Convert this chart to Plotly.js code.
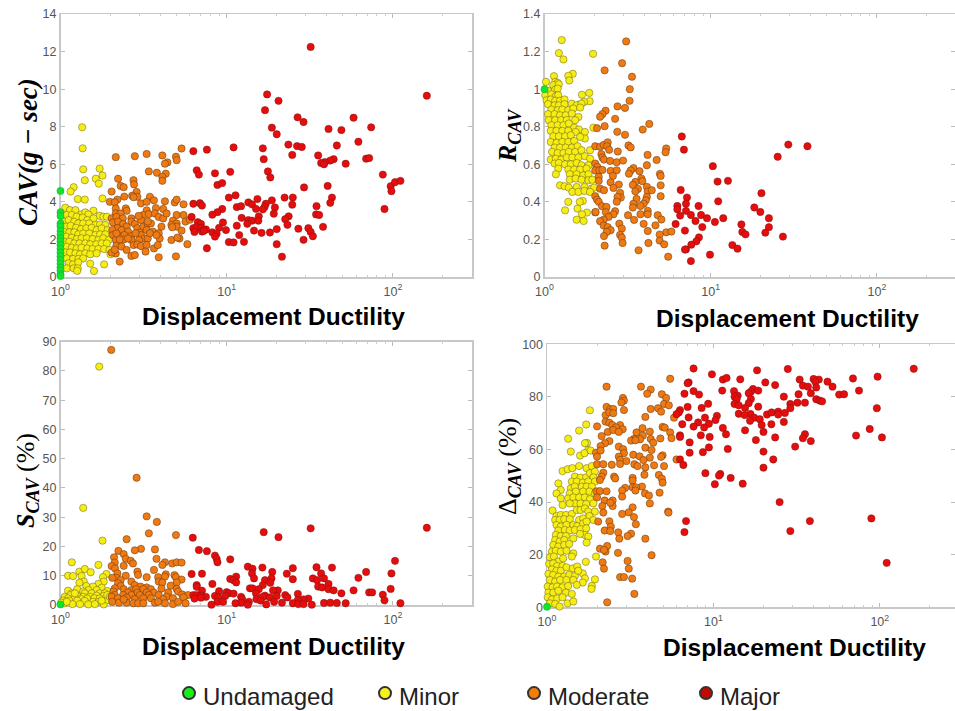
<!DOCTYPE html>
<html><head><meta charset="utf-8">
<script src="https://cdn.plot.ly/plotly-3.0.1.min.js"></script>
<style>html,body{margin:0;padding:0;background:#fff}#c{width:955px;height:711px}</style></head>
<body><div id="c"></div>
<script>
const classNames=["Undamaged","Minor","Moderate","Major"];
const xTickValues=[1,10,100];
const xTickLabels=["10<sup>0</sup>","10<sup>1</sup>","10<sup>2</sup>"];
const tickColor="#555";
// Panel 1: CAV (g-sec)
const cavUndamagedY=[4.58,3.45,3.25,2.85,2.7,2.45,2.25,2.05,1.9,1.7,1.5,1.3,1.1,.9,.7,.5,.35,.15,.05];
const cavMinor=[[1.35,7.97],[1.36,6.85],[1.37,5.73],[1.4,5.15],[1.72,5.77],[1.79,5.4],[1.63,5.23],[1.7,4.97],[1.2,4.78],[1.15,4.55],[1.27,4.15],[1.4,4.12],[1.79,4.18],[1.07,3.69],[1.14,3.56],[1.23,3.56],[1.33,3.33],[1.41,3.44],[1.58,3.53],[1.47,3.33],[1.72,3.26],[1.81,3.21],[1.9,3.21],[1.09,3.3],[1.17,3.3],[1.25,3.21],[1.36,3.16],[1.45,3.03],[1.58,3.12],[1.05,2.94],[1.12,3.03],[1.21,2.94],[1.28,2.85],[1.37,2.85],[1.49,2.85],[1.62,2.77],[1.73,2.8],[1.86,2.77],[1.08,2.68],[1.15,2.73],[1.24,2.62],[1.33,2.55],[1.43,2.59],[1.54,2.62],[1.65,2.5],[1.77,2.59],[1.92,2.5],[1.05,2.41],[1.13,2.38],[1.21,2.38],[1.28,2.27],[1.37,2.32],[1.49,2.32],[1.62,2.23],[1.73,2.27],[1.86,2.27],[1.08,2.15],[1.17,2.09],[1.25,2.02],[1.34,2.06],[1.44,2.06],[1.56,2.02],[1.69,1.97],[1.81,2.06],[1.95,1.97],[1.05,1.88],[1.13,1.88],[1.21,1.79],[1.3,1.79],[1.41,1.79],[1.51,1.74],[1.64,1.74],[1.77,1.79],[1.9,1.79],[1.09,1.61],[1.17,1.56],[1.25,1.52],[1.34,1.56],[1.45,1.52],[1.56,1.49],[1.69,1.49],[1.83,1.49],[1.97,1.44],[1.07,1.31],[1.14,1.31],[1.23,1.26],[1.31,1.21],[1.41,1.26],[1.51,1.21],[1.65,1.26],[2,1.21],[1.09,.99],[1.19,.96],[1.28,.96],[1.37,.99],[1.12,.73],[1.19,.67],[1.28,.78],[1.51,.71],[1.83,.67],[1.09,.46],[1.2,.46],[1.27,.46],[1.59,.32],[1.26,.33]];
const cavModerate=[[2.15,6.38],[2.8,6.43],[3.3,6.55],[4.1,6.47],[4.95,6.4],[5.35,6.84],[5,6.22],[4.4,6.1],[4.25,6.03],[3.4,5.62],[3.8,5.55],[4.3,5.5],[4.1,5.33],[4.1,5.12],[2.22,5.23],[2.75,5.15],[2.77,4.93],[2.3,4.85],[2.4,4.78],[2.03,4.55],[2.87,4.53],[2.7,4.33],[2.42,4.28],[2.9,4.27],[2.75,4.25],[3.45,4.27],[2.2,4.12],[1.98,4],[2.12,3.98],[3.05,3.92],[3.3,4],[3.65,4.08],[4.25,4.03],[4.87,3.97],[5,4.12],[5.5,3.87],[2.15,3.65],[2.47,3.65],[3.75,3.67],[4.15,3.62],[3.3,3.55],[2.15,3.38],[2.5,3.52],[2.3,3.38],[2.03,3.12],[2.17,3.2],[2.37,3.12],[3.15,3.3],[3.4,3.35],[3.7,3.38],[3.9,3.2],[4.15,3.12],[4.35,3.38],[5,3.3],[5.5,3.3],[5.65,2.95],[6,3.05],[3.05,3.03],[2.67,3.12],[2.67,2.95],[2.8,2.82],[2.07,2.9],[2.22,2.95],[2.38,2.82],[2.5,2.68],[2.2,2.6],[2.33,2.5],[2.05,2.5],[2.55,2.42],[2.9,2.6],[3.15,2.68],[3.35,2.82],[3.5,2.85],[3,2.37],[3.3,2.5],[3.6,2.42],[4.05,2.68],[3.9,2.33],[4.75,3],[5,2.85],[4.65,2.77],[5,2.68],[5.35,2.47],[4.7,2.65],[2.07,2.23],[2.22,2.18],[2.42,2.23],[2.67,2.18],[2.15,1.97],[2.4,2],[2.67,1.97],[3.05,2.23],[3.2,2.05],[3.35,2.05],[2.97,1.97],[3.95,2.05],[4.65,1.97],[5.2,2.05],[5.05,2.1],[2.17,1.67],[2.33,1.62],[2.5,1.44],[2.75,1.7],[2.9,1.73],[3.05,1.65],[3.3,1.7],[3.65,1.52],[3.85,1.7],[5.8,1.75],[2.15,1.25],[2.03,1.3],[2.67,1.12],[2.8,1.17],[3.25,1.35],[3.9,1.05],[4.95,1.1],[2.27,.82],[2.12,1.45],[2.27,2],[2.83,2.33],[3.45,2.33],[3.78,2.23],[2.55,2.05],[3.35,2.95],[2.95,3.25],[2.17,2.32]];
const cavMajor=[[32,12.25],[160,9.65],[17.5,9.72],[17,8.88],[20.5,9.38],[18.7,7.95],[20,7.6],[26.7,8.5],[29,8.25],[41,7.88],[49,7.82],[58,8.48],[74,7.97],[62,7.2],[46,7],[23.5,7.05],[26.5,6.97],[28.3,6.92],[16.5,6.85],[11,6.9],[7.6,6.78],[6.3,6.7],[16.7,6.27],[24.8,6.5],[35.5,6.47],[44,6.27],[42,6.2],[39,6.12],[37,6.07],[38.5,6],[52,6.03],[69,6.3],[72,6.33],[6.6,5.68],[6.8,5.45],[8.5,5.52],[10.5,5.6],[17.7,5.62],[18.3,5.3],[87,5.45],[8.8,4.9],[9.4,5],[29.2,4.77],[40.5,4.85],[97,4.83],[98,4.57],[103,5.05],[111,5.12],[89,3.62],[10.3,4.23],[11.3,4.35],[22.3,4.23],[25,4.23],[43,4.23],[42,3.95],[15.3,4.15],[18.7,4.08],[17.2,3.9],[13.5,3.97],[14.2,3.87],[6.3,3.9],[6.9,3.93],[7.1,3.8],[24.8,3.85],[34.7,3.77],[11.5,3.72],[12.2,3.77],[15,3.63],[16.9,3.73],[16.5,3.6],[19.5,3.7],[19.2,3.37],[9.4,3.62],[8.8,3.45],[8.2,3.32],[6.15,3.2],[12.3,3.15],[15.6,3.23],[23.6,3.23],[34.5,3.33],[36,3.3],[22.5,3.08],[23.2,2.78],[13.5,3.03],[14.2,3],[13.3,2.83],[15.5,3],[6.7,2.92],[7,2.82],[9.5,2.9],[11.5,2.73],[9,2.62],[6.3,2.6],[6.6,2.65],[7,2.6],[7.5,2.53],[6.4,2.4],[7.1,2.42],[7.3,2.46],[8.2,2.38],[8.7,2.3],[8.5,2.15],[9.9,2.5],[14.6,2.47],[16.2,2.35],[18.2,2.37],[20,2.55],[27,2.57],[31,2.6],[38,2.67],[32,2.4],[33,2.17],[11.9,2.23],[10.3,1.86],[11,1.84],[12.7,1.87],[29,1.98],[20,1.75],[7.6,1.53],[21.5,1.08]];
// Panel 2: R_CAV
const rUndamagedY=[1];
const rMinor=[[1.27,1.261],[1.22,1.192],[1.3,1.158],[1.96,1.188],[1.48,1.082],[1.39,1.071],[1.41,1.046],[1.86,.98],[1.68,.97],[1.87,.936],[1.73,.932],[1.62,.918],[1.39,.4],[1.33,.355],[1.7,.405],[1.63,.4],[1.58,.364],[1.8,.343],[1.68,.334],[1.56,.305],[1.72,.298],[1.02,1.039],[1.14,1.069],[1.16,1.039],[1.2,1.033],[1.13,1.021],[1.22,1.026],[1.05,.991],[1.16,.998],[1.2,1.003],[1.01,.968],[1.1,.973],[1.17,.962],[1.21,.968],[1.03,.941],[1.09,.945],[1.16,.938],[1.24,.938],[1.32,.945],[1.05,.92],[1.15,.914],[1.22,.914],[1.32,.92],[1.46,.923],[1.56,.914],[1.67,.923],[1.1,.891],[1.2,.888],[1.28,.891],[1.39,.888],[1.49,.897],[1.64,.902],[1.05,.867],[1.15,.867],[1.24,.861],[1.34,.861],[1.46,.87],[1.6,.852],[1.06,.835],[1.16,.835],[1.26,.835],[1.36,.835],[1.53,.835],[1.1,.808],[1.2,.808],[1.3,.808],[1.4,.817],[1.51,.795],[1.61,.785],[1.09,.778],[1.18,.778],[1.28,.778],[1.39,.778],[1.54,.772],[1.75,.772],[1.97,.795],[1.13,.749],[1.22,.749],[1.33,.749],[1.44,.755],[1.75,.737],[1.64,.746],[1.09,.719],[1.18,.714],[1.28,.719],[1.39,.719],[1.51,.724],[1.15,.689],[1.24,.689],[1.34,.689],[1.46,.689],[1.58,.696],[1.11,.666],[1.2,.66],[1.3,.66],[1.4,.666],[1.53,.666],[1.67,.675],[1.88,.675],[1.09,.625],[1.17,.63],[1.26,.625],[1.36,.636],[1.47,.636],[1.6,.636],[1.75,.643],[1.88,.63],[1.15,.604],[1.22,.607],[1.33,.6],[1.44,.6],[1.56,.607],[1.67,.595],[1.84,.595],[1.21,.577],[1.39,.572],[1.51,.572],[1.64,.572],[1.79,.577],[1.17,.547],[1.42,.547],[1.56,.547],[1.71,.541],[1.84,.547],[1.42,.518],[1.54,.524],[1.67,.518],[1.84,.515],[1.94,.518],[1.24,.488],[1.32,.483],[1.4,.476],[1.56,.479],[1.74,.479],[1.92,.47],[1.99,.476],[1.47,.453],[1.6,.453],[1.74,.458],[1.88,.453]];
const rModerate=[[3.1,1.254],[2.93,1.138],[2.3,1.1],[3.36,1.066],[3.26,1],[3.25,.938],[2.75,.908],[3.05,.9],[2.33,.885],[2.23,.867],[2.16,.853],[2.66,.842],[4.27,.815],[2.3,.803],[2.07,.792],[3.9,.785],[2.74,.773],[3.05,.757],[2.02,.696],[2.16,.693],[2.27,.703],[2.4,.717],[2.38,.696],[2.45,.677],[3.2,.7],[3.3,.69],[5.4,.684],[5.35,.664],[2.76,.668],[4.17,.65],[4.73,.623],[2.2,.654],[2.23,.636],[2.28,.625],[2.48,.618],[2.72,.611],[2.97,.62],[2.02,.604],[2.08,.586],[4.13,.595],[3.43,.58],[3.3,.567],[3.22,.55],[3.73,.563],[4.95,.549],[5,.538],[2.02,.567],[2.14,.568],[2.23,.57],[2.5,.565],[2.72,.568],[2.58,.538],[2.12,.533],[2.12,.512],[3.83,.524],[3.88,.51],[3.52,.506],[3.4,.49],[2.5,.504],[2.8,.492],[5,.488],[4.13,.48],[2.16,.47],[2.28,.462],[2.6,.474],[3.65,.469],[3.52,.456],[4.18,.456],[4.42,.462],[2.85,.448],[2.88,.423],[2.75,.426],[2.02,.43],[2.07,.412],[2.12,.4],[5,.43],[3.58,.416],[4.13,.426],[4.07,.408],[2.72,.401],[3.43,.39],[3.95,.39],[3.78,.378],[3.4,.37],[2.22,.377],[2.36,.373],[2.02,.344],[2.03,.346],[2.34,.345],[2.66,.35],[3.78,.334],[4.18,.352],[4.18,.334],[4.8,.329],[3.18,.329],[2.6,.334],[2.43,.32],[2.27,.305],[2.16,.297],[2.82,.284],[3.46,.304],[5.05,.306],[3.95,.283],[4.65,.275],[2.27,.274],[2.4,.266],[2.92,.258],[2.5,.249],[2.37,.24],[4.18,.245],[5.4,.238],[5.8,.242],[2.85,.224],[2.28,.218],[2.92,.21],[4.93,.226],[4.93,.194],[2.95,.181],[4.22,.181],[5.25,.174],[2.3,.167],[3.68,.142],[5.55,.108]];
const rMajor=[[6.7,.748],[6.9,.678],[10.3,.59],[11,.508],[12.7,.512],[29.3,.705],[38.2,.696],[25.3,.64],[6.6,.463],[20.2,.446],[7.2,.423],[11.1,.403],[6.3,.378],[7.1,.39],[8.45,.378],[6.3,.36],[6.55,.327],[7.1,.352],[7.6,.33],[8.75,.33],[9.5,.313],[8.1,.298],[6.15,.282],[10.6,.293],[11.9,.313],[18.3,.37],[19.9,.346],[22.4,.313],[15.3,.28],[8.9,.266],[22.4,.265],[7,.247],[15.5,.24],[16.2,.227],[21.3,.236],[27.2,.215],[8.5,.211],[8.2,.19],[7.65,.172],[7.1,.147],[7,.146],[13.5,.17],[14.5,.151],[9.9,.119],[7.6,.085]];
// Panel 3: S_CAV (%)
const sUndamagedY=[0.2];
const sMinor=[[1.71,81.5],[1.37,33.2],[1.79,22],[1.17,14.6],[1.69,13.7],[1.11,10],[1.19,9.9],[1.3,11.4],[1.4,12.3],[1.52,11.2],[1.89,10.6],[1.34,9.9],[1.8,9.5],[1.38,8],[1.3,7.6],[1.82,8],[1.69,7.2],[1.43,6.5],[1.57,6.3],[1.77,5.9],[1.26,5.4],[1.47,5.1],[1.11,4.9],[1.37,4.6],[1.65,5.1],[1.91,4.8],[1.17,4],[1.4,4],[1.54,4],[1.72,4],[1.85,4],[1.06,2.8],[1.15,3.4],[1.26,3.1],[1.37,2.8],[1.5,2.8],[1.65,3.2],[1.82,3.1],[1.11,2.3],[1.22,2.3],[1.34,2],[1.45,2.2],[1.6,2.3],[1.72,2.2],[1.04,1.5],[1.13,1.5],[1.26,1.5],[1.4,1.4],[1.57,1.1],[1.7,1.1],[1.06,.6],[1.18,.3],[1.31,.3],[1.47,.2],[1.61,.3],[1.82,.2],[1.01,.8],[1.09,1.1],[1.93,1.7],[1.91,3.4],[1.98,2.8],[1.77,1.5],[1.22,4]];
const sModerate=[[2.02,87.2],[2.87,43.5],[3.3,30.3],[3.8,28.4],[3.4,24.5],[4.95,23.9],[2.5,22.5],[3.05,19.2],[2.8,18.7],[3.7,19],[2.23,18.5],[2.4,17.4],[2.1,16.3],[2.47,15.8],[3.78,15.8],[2.65,15.1],[2.73,14.2],[2.12,14.5],[4.25,14.6],[4.1,13.7],[4.7,14.2],[5,14.6],[5.35,14.5],[2.03,13.3],[2.4,13.4],[2.13,12.5],[3.65,12],[2.9,11.4],[2.2,10.8],[2.47,10],[2.93,10.3],[4.3,10.5],[4.85,10.2],[2.17,9.3],[2.05,9.3],[3.87,9.5],[4.25,9.7],[4.95,9.5],[5.35,8.7],[3.3,9.5],[2.3,8.5],[2.67,8],[3.9,8],[4.1,7.7],[5,7.7],[2.22,7.4],[2.8,6.8],[2.3,6.5],[4.6,6.6],[3.03,6.3],[3.3,6],[2.12,5.7],[2.4,5.4],[2.67,5.1],[2.85,5.4],[3.15,5.4],[3.5,5.4],[4.05,5.6],[5,5.5],[2.08,4.6],[2.55,4.3],[2.9,4.2],[3.3,4.3],[3.65,4.2],[4.45,4.3],[5.1,4.6],[2.12,3.4],[2.38,3.4],[2.67,3.4],[3,3.4],[3.4,3.4],[3.9,3.4],[4.35,2.8],[5.4,3.6],[5.85,3.4],[2.03,2.8],[2.22,2.3],[2.5,2.5],[2.8,2],[3.15,2.3],[3.5,2.3],[4.15,2],[4.75,2.3],[5.5,2.6],[2.05,1.1],[2.25,.8],[2.5,.8],[2.75,.6],[2.93,.6],[3.15,.6],[3.7,.8],[4.25,.6],[4.75,.3],[5.1,1.1],[5.65,.6],[3.87,1.1],[2.4,1.9]];
const sMajor=[[160,26.4],[32,26.2],[16.7,24.9],[20.5,23.2],[6.25,23],[6.8,18.8],[7.6,18.4],[8.5,16.9],[8.7,15.8],[8.8,14.6],[10.5,15.6],[103,15.1],[13.4,13.1],[14.3,12.4],[16.4,12.8],[34.7,12.9],[43,12.8],[25,12.6],[18.8,11.3],[14.2,10.8],[23,10.7],[37,10.8],[69,11.3],[98,10.8],[6.15,10.6],[7.1,10.7],[11.4,9.7],[10.5,8.9],[11,8.5],[11.4,7.7],[14.6,9.1],[17,8.5],[18.6,9.1],[18.3,7.6],[25,8.8],[33,9.1],[35,8.5],[38.5,9.1],[62,9.3],[16.5,6.8],[8.2,7.2],[6.6,6.8],[6.6,6.2],[7.1,4.9],[41,7.2],[35.5,6.3],[37.5,6],[13.8,5.7],[14.3,5.7],[15.6,5.4],[97,5.5],[58,5],[20.3,5],[19,5],[41,5.4],[44,5],[9,4.7],[10,4.4],[10.3,4],[72,4.3],[75,4.3],[49,4],[11,3.9],[26.8,3.8],[22.5,3.4],[87,3.5],[6.3,3.4],[6.6,3.4],[7,3.2],[7.5,2.8],[8.5,3.1],[9.8,3.1],[12.2,2.8],[15,4],[17,3.2],[20,3.1],[23.2,2.6],[6.4,2.2],[7,2.5],[8.9,2.5],[12.4,2],[15.1,2],[16.5,2.8],[18.2,2.6],[31,2.2],[29,1.9],[26.8,1.7],[89,1.6],[16,1.5],[8.8,1.1],[9.5,1.1],[13.6,1.1],[19.3,1.1],[21.5,.8],[12.2,.8],[11.3,.6],[25,.6],[27,.3],[29,.3],[38.5,.7],[42,.8],[46,.7],[52,.6],[111,.6],[8.1,.1],[13.4,.1],[17.3,.2],[32.5,.1]];
// Panel 4: Delta_CAV (%)
const dUndamagedY=[0.2];
const dMinor=[[1.81,74.9],[1.72,69.5],[1.56,67.2],[1.34,64.1],[1.74,62.5],[1.39,59.2],[1.69,62.4],[1.77,59.8],[1.58,57.7],[1.68,58.6],[1.83,59.6],[1.24,51.8],[1.33,52.5],[1.42,52.9],[1.56,53.7],[1.73,52.9],[1.86,53.7],[1.47,49.7],[1.59,49.3],[1.72,49.4],[1.81,51],[1.94,51.6],[1.9,49.4],[1.41,47.8],[1.51,47.8],[1.17,47.1],[1.64,47.4],[1.77,47.8],[1.94,47.8],[1.39,45.2],[1.47,45.9],[1.21,44.6],[1.62,45.9],[1.73,45.9],[1.86,45.9],[1.14,43.3],[1.37,43.3],[1.49,44],[1.65,44],[1.8,44],[1.94,43.3],[1.21,41.4],[1.34,41.4],[1.44,41.8],[1.56,41.8],[1.69,41.8],[1.81,41.1],[1.24,38.9],[1.47,39.5],[1.37,39.5],[1.59,39.5],[1.72,39.3],[1.9,39.5],[1.08,36.8],[1.14,34.7],[1.21,35.1],[1.3,35.1],[1.41,35.5],[1.51,37],[1.59,37],[1.69,37.6],[1.77,36.4],[1.94,36.4],[1.12,33.2],[1.19,33.2],[1.27,33.5],[1.37,33.5],[1.56,33.2],[1.65,33.8],[1.8,34.7],[1.9,33.2],[1.14,31.3],[1.21,30.7],[1.31,31.3],[1.44,31.3],[1.52,30.9],[1.65,31.9],[1.73,32.6],[1.17,29.2],[1.28,29.4],[1.37,29.2],[1.47,29.4],[1.59,29.7],[1.72,30],[1.13,27.5],[1.21,27.1],[1.3,27.1],[1.69,27.5],[1.77,26.9],[1.12,25.6],[1.19,25],[1.27,25.6],[1.44,26.2],[1.58,27.9],[1.09,23.7],[1.17,23.1],[1.27,23.7],[1.36,24.1],[1.73,24.6],[1.07,21.2],[1.13,21.5],[1.21,21.2],[1.31,21.5],[1.44,20.5],[1.04,19],[1.1,19.3],[1.17,17.4],[1.25,18.6],[1.41,19.3],[1.97,19.3],[1.71,17.3],[1.03,16.5],[1.09,16.7],[1.15,15.7],[1.24,15.7],[1.07,14.4],[1.14,13.9],[1.21,13.9],[1.31,15.2],[1.43,14.8],[1.52,15.5],[1.02,12.7],[1.09,12.3],[1.17,11.7],[1.27,11.7],[1.36,12.3],[1.47,11.9],[1.64,12.9],[1.54,13.9],[1.04,10.4],[1.12,9.8],[1.2,10.4],[1.31,10.4],[1.44,10.4],[1.69,11],[1.64,9.4],[1.94,10.6],[1.01,7.9],[1.08,7.6],[1.15,7.9],[1.24,7.6],[1.34,8.1],[1.51,8.5],[1.86,8.1],[1.85,7],[1.02,5.6],[1.09,5.6],[1.17,6.3],[1.3,5.6],[1.41,5.1],[1.01,3.8],[1.07,3],[1.15,3.4],[1.24,3.8],[1.33,1.5],[1.44,2.2],[1.04,1.5],[1.12,1.3],[1.19,.3]];
const dModerate=[[5.5,86.9],[2.28,83.9],[3.67,83.9],[4.2,82.8],[4,81.2],[4.9,81],[5.2,79.6],[2.86,79.6],[2.9,78.6],[2.8,77.9],[5.05,77.3],[5.4,76.8],[2.9,75],[4.2,75.4],[4.65,75.7],[4.85,74.4],[2.28,76.2],[2.4,75.3],[2.5,75.4],[2.25,73.1],[2.37,74.1],[2.5,73.8],[3.9,72.4],[5.8,72.1],[2.25,70.6],[2.37,70.2],[2,68.8],[2.47,69.3],[2.75,69.3],[2.6,68.4],[2.85,67.7],[2.32,66.7],[2.5,67.4],[2.7,66.7],[4.95,68.6],[5.1,68.3],[3.75,68.1],[3.45,66.5],[4.15,66.8],[5.5,66.5],[2.13,65.1],[3.77,65.3],[3.33,64],[3.63,63.9],[5.6,64.3],[4.8,64.2],[4.2,64],[3.2,63.4],[3.4,63.5],[4.35,62.6],[2.37,63.2],[2.23,62.4],[2.1,61.3],[2.7,61.1],[2.87,60.1],[3.9,60.7],[4.25,59.8],[1.97,58.8],[2.1,59.6],[2.9,58.6],[2,57.3],[2.7,57.3],[3.3,58],[3.6,57.4],[4.15,56.9],[4.95,57.8],[4.85,57.2],[6,56.2],[2.75,56],[3,55.6],[3.8,56],[2,54.4],[2.18,54.4],[2.45,54.2],[2.75,54.5],[3.35,54.4],[3.5,53.7],[3.9,53.2],[4.4,54],[5.05,53.7],[2.18,51.2],[2.13,49.7],[2.08,48.4],[2.53,49.7],[2.57,49],[3.85,50.4],[4.7,50.3],[4.9,48.9],[4.95,47.4],[3.27,49.2],[3.27,48.2],[3.27,45.6],[2.95,45.4],[3.72,45.9],[3.43,45.6],[3.4,44.4],[1.98,44.1],[2.08,44.2],[2.28,44.1],[2.83,44.4],[4.75,43.6],[3.88,43.3],[4.1,42.5],[2,41.8],[2.22,40.6],[2.48,40.6],[2.83,42.1],[2.15,38.5],[2.48,38.5],[2.4,39.8],[4.15,39.5],[3.27,38],[2.18,36],[3.1,36.1],[2.83,35.5],[5.35,36.4],[5.37,36],[3.33,34.3],[2.03,32.6],[2.37,32.7],[3.42,31.6],[2.42,30.7],[2.22,29.2],[2.4,29],[2.68,28.5],[3.2,28],[3.05,27.1],[2.72,26.1],[3.9,26.1],[2.3,23.3],[2.08,22.3],[2.25,21.2],[2.2,21.8],[2.67,20.7],[4.25,19.8],[3.05,17.6],[2.16,17.1],[3.1,14.7],[2.2,14.7],[2.75,11.5],[2.9,11.5],[3.25,10.9],[3.35,5.1],[2.3,1.9]];
const dMajor=[[160,90.7],[28,90.6],[7.6,90.8],[18.3,90.1],[9.8,88.6],[97,87.7],[11.4,86.6],[12,87.2],[14.5,86.7],[69,87],[33,86.6],[43,86.6],[40,86.8],[41,85.8],[48.5,85.8],[20.5,85.5],[7.1,85.5],[7,85.2],[23.5,84.5],[34.5,84.3],[37,83.9],[41.5,83.6],[52,83.9],[17.3,83],[16.8,82],[11.3,82.4],[18.6,82.4],[13.3,82.2],[75,82.4],[7.6,82.2],[6.7,81.2],[8.2,80.9],[14,80.5],[13.4,80.1],[16.3,81.4],[32.5,81],[38.5,81.4],[57,80.9],[61,81],[26.5,80.1],[16.8,79.2],[13.8,79.1],[41.5,79.1],[43.5,78.6],[45,78.3],[13.4,77.3],[16.3,77.6],[32,77.8],[35.5,77.8],[29,77.3],[9.3,77.4],[14.2,76.8],[7,76.2],[8.5,75.8],[15.5,75.8],[18.6,76.3],[29,75.7],[96,75.7],[6.3,75],[6.2,74.1],[6,73.4],[14.2,73.6],[16.7,73.5],[15.4,73.1],[21,73.3],[22.4,74.1],[24.5,74.4],[26.9,73.9],[24.5,73.3],[10.5,72.8],[7.1,72.2],[8.9,72.1],[17.6,72.1],[19,71.5],[10.3,71.2],[16.6,70.9],[8.1,70.3],[26.5,70.5],[6.5,69.6],[9.4,69.8],[22.3,69.6],[19.5,69.3],[7.6,68.7],[8.8,68.4],[11.4,68.2],[87,67.8],[15.5,67.3],[20,66.7],[11.9,65.8],[6.3,65.4],[6.3,64.8],[8.4,65.4],[35.5,65.8],[34.5,64.3],[72,65.3],[103,64.6],[9.5,64.8],[23.5,64.6],[18,63.6],[38.5,63.2],[7.2,62.7],[9.4,60.8],[31,61.1],[12.2,60.2],[8.65,59],[7.2,58.8],[20,59.2],[22.9,56.2],[6.3,56.2],[6.6,54.1],[20,53.1],[8.95,51],[11,50.7],[10.8,50.1],[12.7,49.2],[10.2,46.8],[15,47],[25,40],[6.85,32.8],[38,32.8],[89,33.8],[6.7,28.6],[29,29],[110,16.9]];

const W=955,H=711;
const plotColors=["#12e32f","#f6ee12","#ef7a12","#e60d0d"];
const edgeColors=["rgba(20,140,40,.45)","rgba(90,80,30,.65)","rgba(90,50,20,.7)","rgba(130,20,20,.75)"];
const keyColors=["#18ee1c","#f8f01e","#f47d06","#c20a00"];
const panels=[
 {ax:"", box:[60.5,472,14,277], xr:2.476, yr:[0,14], dy:2, data:[cavUndamagedY,cavMinor,cavModerate,cavMajor]},
 {ax:"2",box:[544.5,955,14,277], xr:2.47, yr:[0,1.4],dy:.2,data:[rUndamagedY,rMinor,rModerate,rMajor]},
 {ax:"3",box:[60.5,472,341.7,605], xr:2.476, yr:[0,90],dy:10,data:[sUndamagedY,sMinor,sModerate,sMajor]},
 {ax:"4",box:[547,955,344.3,607.3],xr:2.452,yr:[0,100],dy:20,data:[dUndamagedY,dMinor,dModerate,dMajor]}
];
const layout={width:W,height:H,margin:{l:0,r:0,t:0,b:0,autoexpand:false},paper_bgcolor:"#fff",plot_bgcolor:"#fff",showlegend:true,annotations:[]};
const traces=[];
panels.forEach(p=>{
 const base={linecolor:"#c8c8c8",linewidth:1.5,mirror:"ticks",showgrid:false,zeroline:false,ticks:"inside",ticklen:4,tickcolor:"#bbb",tickwidth:1,layer:"below traces",
  tickfont:{family:"Liberation Sans, Arial, sans-serif",size:12.5,color:tickColor}};
 layout["xaxis"+p.ax]=Object.assign({},base,{type:"log",range:[0,p.xr],tickmode:"array",tickvals:xTickValues,ticktext:xTickLabels,ticklabelstandoff:2,
  domain:[p.box[0]/W,Math.min(1,p.box[1]/W)],anchor:"y"+p.ax,
  minor:{ticks:"inside",ticklen:2,tickcolor:"#ccc",tickvals:[2,3,4,5,6,7,8,9,20,30,40,50,60,70,80,90,200],showgrid:false}});
 layout["yaxis"+p.ax]=Object.assign({},base,{range:p.yr,dtick:p.dy,domain:[1-p.box[3]/H,1-p.box[2]/H],anchor:"x"+p.ax});
 [1,2,3,0].forEach(i=>{
  const d=p.data[i];
  traces.push({type:"scatter",mode:"markers",xaxis:"x"+p.ax,yaxis:"y"+p.ax,showlegend:false,cliponaxis:false,hoverinfo:"skip",name:classNames[i],
   x:i===0?d.map(()=>1):d.map(v=>v[0]),y:i===0?d:d.map(v=>v[1]),
   marker:{size:7.3,color:plotColors[i],line:{width:.7,color:edgeColors[i]}}});
 });
});
// legend keys
const legendTextX=[203,399,548,720];
classNames.forEach((n,i)=>{
 const id=i===0?"legend":"legend"+(i+1);
 traces.push({type:"scatter",mode:"markers",x:[null],y:[null],name:n,showlegend:true,legend:id,xaxis:"x",yaxis:"y",
  marker:{size:10,color:keyColors[i],line:{width:.8,color:"#333"}}});
 layout[id]={x:(legendTextX[i]-40)/W,y:1-674/H,xanchor:"left",yanchor:"top",orientation:"h",bgcolor:"rgba(0,0,0,0)",
  font:{family:"Liberation Sans, Arial, sans-serif",size:24,color:"#222"},itemsizing:"constant"};
});
const xtitle="<b>Displacement Ductility</b>";
const xfont={family:"Liberation Sans, Arial, sans-serif",size:24.5,color:"#000"};
const ann=(x,y,text,font,angle)=>layout.annotations.push({xref:"paper",yref:"paper",x:x/W,y:1-y/H,xanchor:"center",yanchor:"middle",text,font,showarrow:false,textangle:angle||0});
ann(273,316,xtitle,xfont);ann(787.5,319,xtitle,xfont);ann(273,646,xtitle,xfont);ann(794,647,xtitle,xfont);
const serif=s=>({family:"Liberation Serif, serif",size:s,color:"#000"});
ann(28,152,"<b><i>CAV(g − sec)</i></b>",serif(27));
ann(509,136,"<b><i>R<sub>CAV</sub></i></b>",serif(26));
ann(27,481,"<b><i>S<sub>CAV</sub></i></b> (%)",serif(26));
ann(509,467,"Δ<b><i><sub>CAV</sub></i></b> (%)",serif(26));
layout.annotations.slice(4).forEach(a=>a.textangle=-90);
Plotly.newPlot("c",traces,layout,{staticPlot:true,displayModeBar:false}).then(()=>{
 document.querySelectorAll(".legendsymbols").forEach(e=>e.setAttribute("transform","translate(6,-3)"));
});
</script></body></html>
